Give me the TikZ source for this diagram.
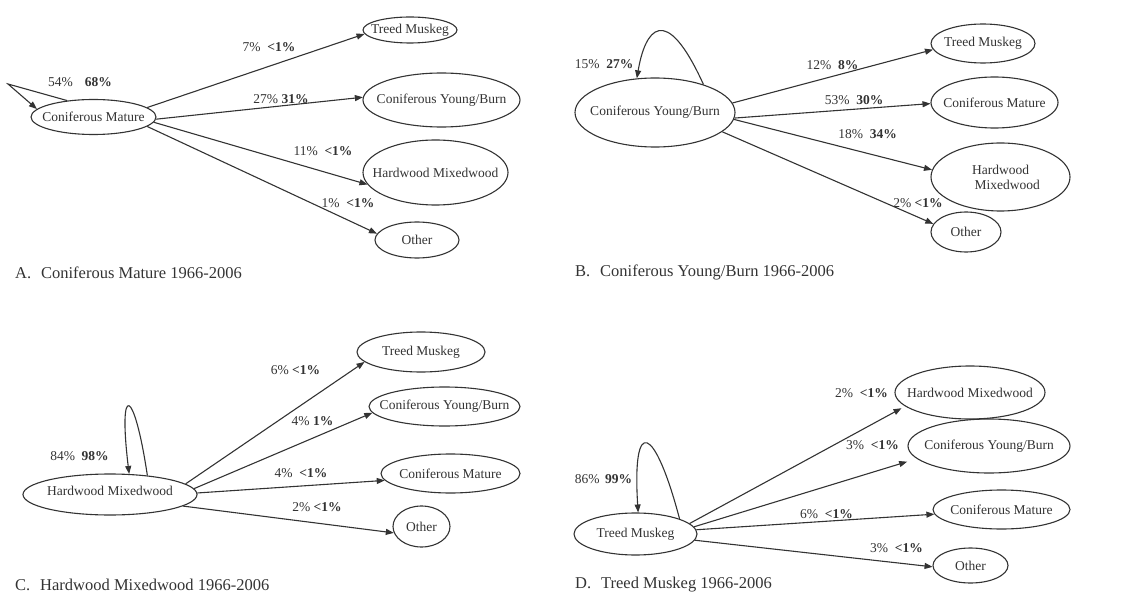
\documentclass[tikz,border=0pt]{standalone}
\usepackage{fontspec}
\setmainfont{Liberation Serif}
\usetikzlibrary{arrows.meta,shapes.geometric}
\definecolor{ink}{gray}{0.2}
\newcommand\lblfont{\fontsize{13.5}{15}\selectfont}
\newcommand\capfont{\fontsize{16.5}{19}\selectfont}
\begin{document}
\begin{tikzpicture}[x=1pt,y=-1pt,
  ell/.style={ellipse,draw=ink,line width=1.1pt,inner sep=0pt},
  every label/.style={font=\lblfont,text=ink,inner sep=0pt},
  pct/.style={font=\lblfont,text=ink,inner sep=0pt},
  capt/.style={font=\capfont,text=ink,inner sep=0pt,anchor=west},
  arr/.style={draw=ink,line width=1.1pt,-{Triangle[length=8pt,width=6pt]}}]
\useasboundingbox (0,0) rectangle (1127,596);

% ---------- Panel A ----------
\node[ell,minimum width=125pt,minimum height=35pt,label=center:{Coniferous Mature}] (acm) at (93.5,117) {};
\node[ell,minimum width=94pt,minimum height=26pt,label=center:{Treed Muskeg}] (atm) at (410,30) {};
\node[ell,minimum width=157pt,minimum height=54pt,label=center:{Coniferous Young/Burn}] (acy) at (441.5,100) {};
\node[ell,minimum width=145pt,minimum height=65pt,label=center:{Hardwood Mixedwood}] (ahm) at (435.5,172.5) {};
\node[ell,minimum width=84pt,minimum height=36pt,label=center:{Other}] (aot) at (417,240) {};
\draw[arr] (acm.10) -- (atm.185);
\draw[arr] (acm.-2) -- (acy.178);
\draw[arr] (acm.-5) -- (ahm.190);
\draw[arr] (acm.-10) -- (aot.171);
\draw[arr] (acm.148) -- (8,84) -- (acm.172);
\node[pct] (la0) at (80,82) {54\%\hspace{0.9em}\textbf{68\%}};
\node[pct] (la1) at (269,47) {7\%\hspace{0.5em}\textbf{<1\%}};
\node[pct] (la2) at (281,99) {27\% \textbf{31\%}};
\node[pct] (la3) at (323,151) {11\%\hspace{0.5em}\textbf{<1\%}};
\node[pct] (la4) at (348,203) {1\%\hspace{0.5em}\textbf{<1\%}};
\node[capt] (capA) at (15,272.5) {A.\hspace{0.6em}Coniferous Mature 1966-2006};

% ---------- Panel B ----------
\node[ell,minimum width=160pt,minimum height=69pt,label=center:{Coniferous Young/Burn}] (bcy) at (655,112.5) {};
\node[ell,minimum width=104pt,minimum height=39pt,label=center:{Treed Muskeg}] (btm) at (983,43.5) {};
\node[ell,minimum width=127pt,minimum height=51pt,label=center:{Coniferous Mature}] (bcm) at (994.5,102.5) {};
\node[ell,minimum width=139pt,minimum height=68pt,label={[align=center]center:{Hardwood\\\hspace{1em}Mixedwood}}] (bhm) at (1000.5,177) {};
\node[ell,minimum width=70pt,minimum height=40pt,label=center:{Other}] (bot) at (966,232) {};
\draw[arr] (bcy.7) -- (btm.187);
\draw[arr] (bcy.-4) -- (bcm.181);
\draw[arr] (bcy.-5) -- (bhm.174);
\draw[arr] (bcy.-16) -- (bot.166);
\draw[arr] (bcy.30) .. controls (665,0) and (645,30) .. (bcy.118);
\node[pct] (lb0) at (604,64) {15\%\hspace{0.5em}\textbf{27\%}};
\node[pct] (lb1) at (832.5,65) {12\%\hspace{0.5em}\textbf{8\%}};
\node[pct] (lb2) at (854,100) {53\%\hspace{0.5em}\textbf{30\%}};
\node[pct] (lb3) at (867.5,134) {18\%\hspace{0.5em}\textbf{34\%}};
\node[pct] (lb4) at (918,203) {2\% \textbf{<1\%}};
\node[capt] (capB) at (575,272.5) {B.\hspace{0.6em}Coniferous Young/Burn 1966-2006};

% ---------- Panel C ----------
\node[ell,minimum width=174pt,minimum height=41pt,label={[yshift=4pt]center:{Hardwood Mixedwood}}] (chm) at (110,494.5) {};
\node[ell,minimum width=128pt,minimum height=40pt,label=center:{Treed Muskeg}] (ctm) at (421,352) {};
\node[ell,minimum width=151pt,minimum height=39pt,label=center:{Coniferous Young/Burn}] (ccy) at (444.5,406.5) {};
\node[ell,minimum width=139pt,minimum height=39pt,label=center:{Coniferous Mature}] (ccm) at (450.5,473.5) {};
\node[ell,minimum width=57pt,minimum height=41pt,label=center:{Other}] (cot) at (421.5,526.5) {};
\draw[arr] (chm.8) -- (ctm.190);
\draw[arr] (chm.4.5) -- (ccy.185);
\draw[arr] (chm.1) -- (ccm.186);
\draw[arr] (chm.-9.5) -- (cot.193);
\draw[arr] (chm.27) .. controls (134,386) and (118,382) .. (chm.47);
\node[pct] (lc0) at (79.5,456) {84\%\hspace{0.5em}\textbf{98\%}};
\node[pct] (lc1) at (295.5,370) {6\% \textbf{<1\%}};
\node[pct] (lc2) at (312.5,421) {4\% \textbf{1\%}};
\node[pct] (lc3) at (301,473) {4\%\hspace{0.5em}\textbf{<1\%}};
\node[pct] (lc4) at (317,507) {2\% \textbf{<1\%}};
\node[capt] (capC) at (15,584.5) {C.\hspace{0.6em}Hardwood Mixedwood 1966-2006};

% ---------- Panel D ----------
\node[ell,minimum width=123pt,minimum height=42pt,label=center:{Treed Muskeg}] (dtm) at (635.5,534) {};
\node[ell,minimum width=150pt,minimum height=53pt,label=center:{Hardwood Mixedwood}] (dhm) at (970,392.5) {};
\node[ell,minimum width=162pt,minimum height=54pt,label=center:{Coniferous Young/Burn}] (dcy) at (989,446) {};
\node[ell,minimum width=137pt,minimum height=39pt,label=center:{Coniferous Mature}] (dcm) at (1001.5,509.5) {};
\node[ell,minimum width=75pt,minimum height=35pt,label=center:{Other}] (dot) at (970.5,565.5) {};
\draw[arr,shorten >=4pt] (dtm.11) -- (dhm.192);
\draw[arr,shorten >=10pt] (dtm.7) -- (dcy.190);
\draw[arr] (dtm.4) -- (dcm.184);
\draw[arr] (dtm.-6.5) -- (dot.182);
\draw[arr] (dtm.19) .. controls (655,426) and (632,414) .. (dtm.83);
\node[pct] (ld0) at (603.5,479) {86\%\hspace{0.4em}\textbf{99\%}};
\node[pct] (ld1) at (861.5,393) {2\%\hspace{0.5em}\textbf{<1\%}};
\node[pct] (ld2) at (872.5,445) {3\%\hspace{0.5em}\textbf{<1\%}};
\node[pct] (ld3) at (826.5,514) {6\%\hspace{0.5em}\textbf{<1\%}};
\node[pct] (ld4) at (896.5,548) {3\%\hspace{0.5em}\textbf{<1\%}};
\node[capt] (capD) at (575,584.5) {D.\hspace{0.6em}Treed Muskeg 1966-2006};
\end{tikzpicture}
\end{document}
